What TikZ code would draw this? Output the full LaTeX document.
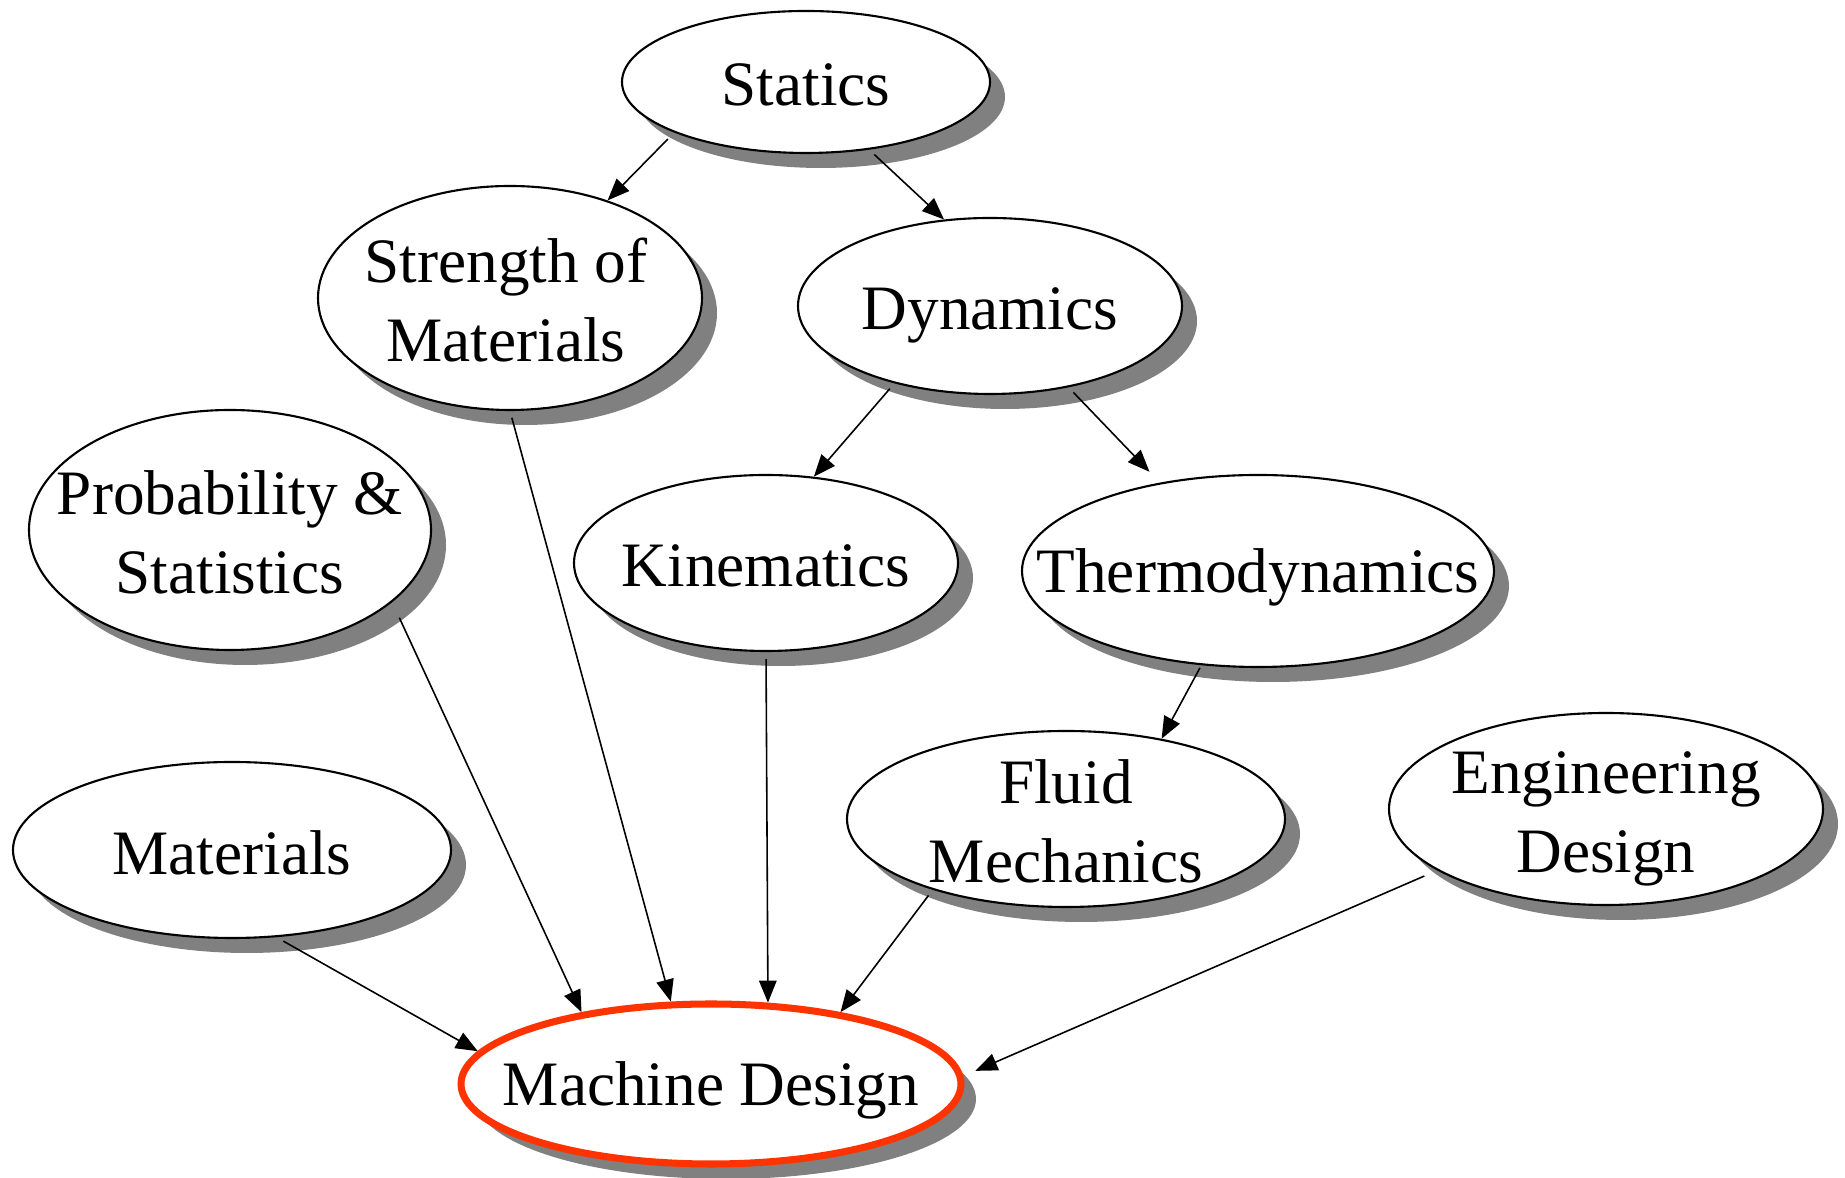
\documentclass[tikz,border=0pt]{standalone}
\usepackage{fontspec}
\setmainfont{Liberation Serif}
\usetikzlibrary{shapes.geometric,shadows,arrows.meta}
\definecolor{shadowgray}{RGB}{128,128,128}
\definecolor{mdred}{RGB}{255,51,0}
\begin{document}
\begin{tikzpicture}[x=0.1mm,y=-0.1mm,
  ell/.style={ellipse, draw=black, line width=0.6pt, fill=white, inner sep=0pt,
    drop shadow={shadow xshift=1.5mm, shadow yshift=-1.5mm, fill=shadowgray, opacity=1}},
  every label/.style={font=\fontsize{18}{22.5}\selectfont, align=center, text=black, inner sep=0pt, yshift=-0.25mm},
  conn/.style={-{Triangle[length=2.2mm,width=1.75mm]}, line width=0.45pt, draw=black, shorten <=0.7mm}]
\useasboundingbox (0,0) rectangle (1845,1178);
\node[ell, minimum width=36.8mm, minimum height=14.2mm, label={[name=st-t]center:Statics}] (st) at (806,82) {};
\node[ell, minimum width=38.4mm, minimum height=22.4mm, label={[name=som-t, xshift=-0.4mm]center:{Strength of\\Materials}}] (som) at (510,298) {};
\node[ell, minimum width=38.4mm, minimum height=17.6mm, label={[name=dyn-t, yshift=-0.7mm]center:Dynamics}] (dyn) at (990,306) {};
\node[ell, minimum width=40.2mm, minimum height=24mm, label={[name=ps-t]center:{Probability \&\\Statistics}}] (ps) at (230,530) {};
\node[ell, minimum width=38.4mm, minimum height=17.6mm, label={[name=kin-t]center:Kinematics}] (kin) at (766,563) {};
\node[ell, minimum width=47.2mm, minimum height=19.2mm, label={[name=th-t, yshift=-0.4mm]center:Thermodynamics}] (th) at (1258,571) {};
\node[ell, minimum width=43.8mm, minimum height=17.6mm, label={[name=fm-t]center:{Fluid\\Mechanics}}] (fm) at (1066,819) {};
\node[ell, minimum width=43.4mm, minimum height=19.2mm, label={[name=ed-t, yshift=-0.7mm]center:{Engineering\\Design}}] (ed) at (1606,809) {};
\node[ell, minimum width=43.8mm, minimum height=17.6mm, label={[name=mat-t]center:Materials}] (mat) at (232,850) {};
\node[ell, draw=mdred, line width=2pt, minimum width=50mm, minimum height=16mm, label={[name=md-t, yshift=-0.4mm]center:Machine Design}] (md) at (711,1084) {};
\draw[conn, shorten <=0.9mm] (st.201) -- (som.45);
\draw[conn] (st.313) -- (dyn.118);
\draw[conn] (dyn.219) -- (kin.61);
\draw[conn, shorten >=1.5mm] (dyn.314) -- (th.138);
\draw[conn, shorten <=0.3mm] (th.239) -- (fm.40);
\draw[conn] (som.south) -- (md.116);
\draw[conn, shorten <=1.7mm] (ps.336) -- (md.151);
\draw[conn] (kin.south) -- (md.55);
\draw[conn] (fm.208) -- (md.29);
\draw[conn, shorten <=0.8mm] (mat.297) -- (md.172);
\draw[conn, shorten <=1.4mm] (ed.200) -- ([xshift=1.4mm]md.3);
\end{tikzpicture}
\end{document}
